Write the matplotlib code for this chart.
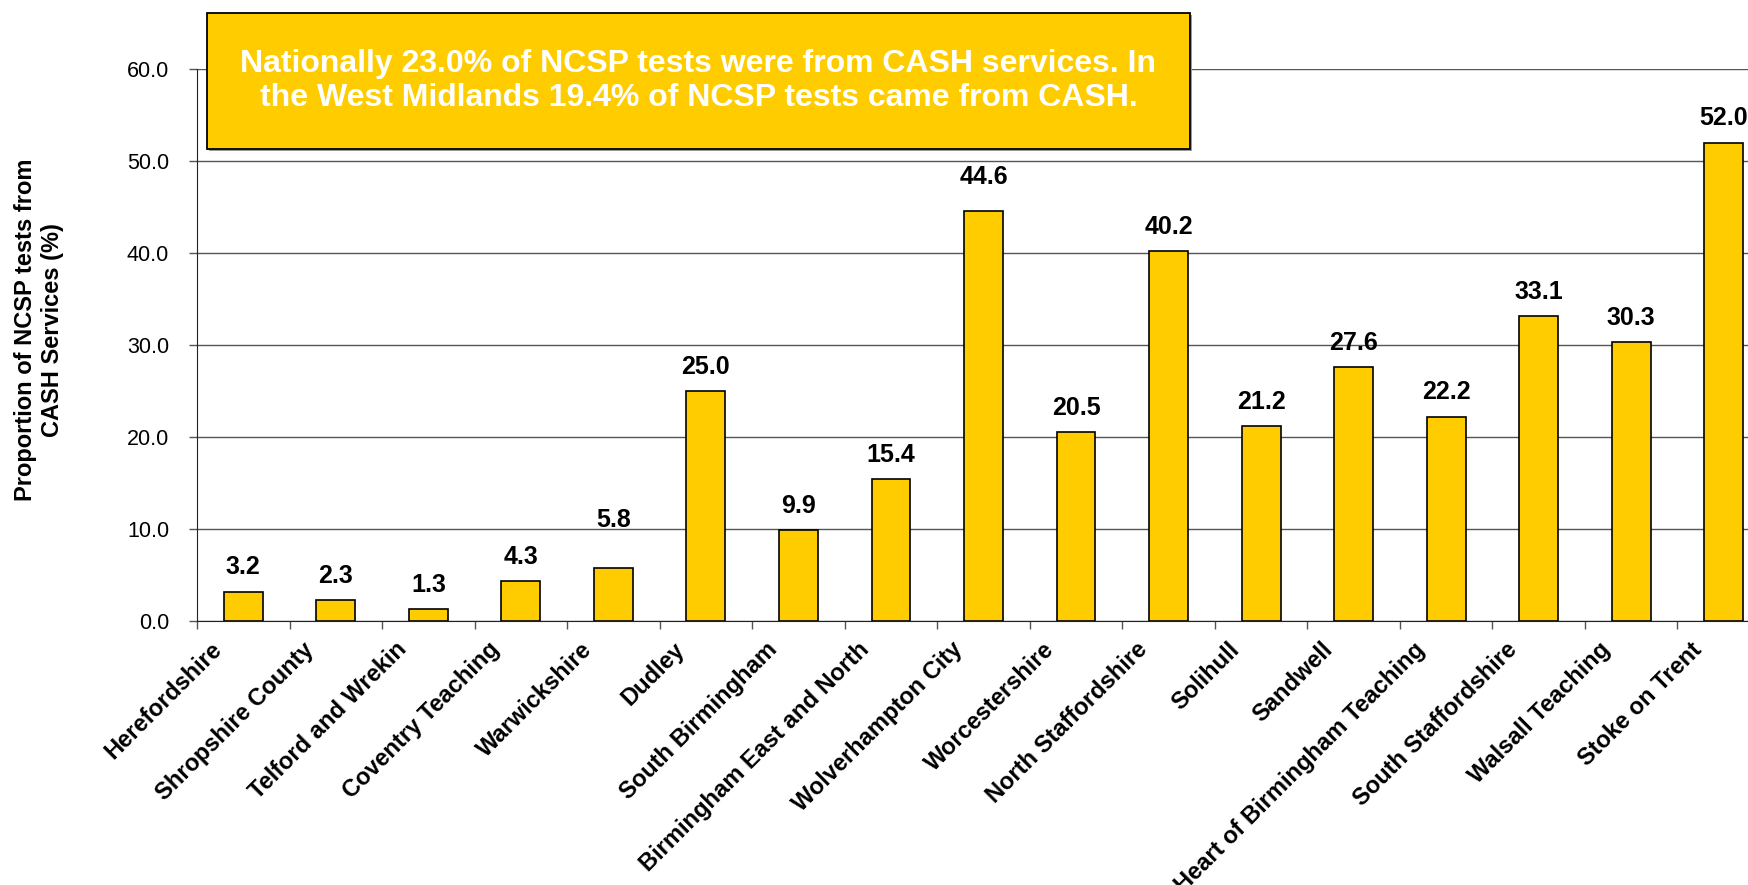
import numpy as np
import matplotlib.pyplot as plt
from matplotlib.patches import Rectangle
from matplotlib.transforms import ScaledTranslation

plt.rcParams['font.family'] = ['Liberation Sans', 'DejaVu Sans']

# PCT names and share of NCSP tests from CASH services (%)
pcts = ['Herefordshire', 'Shropshire County', 'Telford and Wrekin',
        'Coventry Teaching', 'Warwickshire', 'Dudley', 'South Birmingham',
        'Birmingham East and North', 'Wolverhampton City', 'Worcestershire',
        'North Staffordshire', 'Solihull', 'Sandwell',
        'Heart of Birmingham Teaching', 'South Staffordshire',
        'Walsall Teaching', 'Stoke on Trent']
cash_share = [3.2, 2.3, 1.3, 4.3, 5.8, 25.0, 9.9, 15.4, 44.6, 20.5,
              40.2, 21.2, 27.6, 22.2, 33.1, 30.3, 52.0]
y_ticks = [0, 10, 20, 30, 40, 50, 60]
note = ('Nationally 23.0% of NCSP tests were from CASH services. In\n'
        'the West Midlands 19.4% of NCSP tests came from CASH.')

# a couple of labels were lifted by hand in the original sheet
label_lift = {'Warwickshire': 17, 'Wolverhampton City': 7}

W, H = 1749, 885
fig = plt.figure(figsize=(W / 100, H / 100), dpi=100)
ax = fig.add_axes([197 / W, 1 - 621 / H, (1770 - 197) / W, (621 - 69) / H])

x = np.arange(len(pcts))
ax.bar(x, cash_share, width=0.42, color='#FFCC00', edgecolor='black',
       linewidth=1.2, zorder=3)

for i, (name, v) in enumerate(zip(pcts, cash_share)):
    ax.annotate('%.1f' % v, (i, v), xytext=(0, 17.5 + label_lift.get(name, 0)),
                textcoords='offset points', ha='center', va='center',
                fontsize=18, fontweight='bold', zorder=4)

ax.set_xlim(-0.5, len(pcts) - 0.5)
ax.set_ylim(0, 60)
ax.set_yticks(y_ticks)
ax.set_yticklabels(['%.1f' % t for t in y_ticks], fontsize=15.5)
ax.tick_params(axis='y', length=6, width=1, color='#555555', pad=14)
ax.yaxis.grid(True, color='#555555', linewidth=1.0, zorder=0)
ax.set_axisbelow(True)

ax.set_xticks(x)
ax.set_xticklabels(pcts, rotation=45, ha='right', va='center',
                   rotation_mode='anchor', fontsize=17, fontweight='bold')
ax.tick_params(axis='x', which='major', length=0, pad=18)
ax.set_xticks(np.arange(len(pcts) + 1) - 0.5, minor=True)
ax.tick_params(axis='x', which='minor', length=6, width=1, color='#555555')
shift = ScaledTranslation(-18 / 72, 0, fig.dpi_scale_trans)
for lab in ax.get_xticklabels():
    lab.set_transform(lab.get_transform() + shift)

for s in ['top', 'right']:
    ax.spines[s].set_visible(False)
ax.spines['left'].set_color('#222222')
ax.spines['bottom'].set_color('#222222')

fig.text(39 / W, 1 - 330 / H, 'Proportion of NCSP tests from\nCASH Services (%)',
         rotation=90, ha='center', va='center', multialignment='center',
         fontsize=17, fontweight='bold')

# callout box with a thin drop shadow
bx0, bx1, by0, by1 = 207, 1190, 13, 149
fig.patches.append(Rectangle(((bx0 + 2) / W, 1 - (by1 + 2) / H),
                             (bx1 - bx0) / W, (by1 - by0) / H,
                             transform=fig.transFigure, facecolor='#9a9a9a',
                             edgecolor='none', zorder=5))
fig.patches.append(Rectangle((bx0 / W, 1 - by1 / H), (bx1 - bx0) / W,
                             (by1 - by0) / H, transform=fig.transFigure,
                             facecolor='#FFCC00', edgecolor='black',
                             linewidth=1.3, zorder=6))
fig.text((bx0 + bx1) / 2 / W, 1 - 81 / H, note, ha='center', va='center',
         multialignment='center', color='white', fontsize=23,
         fontweight='bold', zorder=7)

fig.savefig('out.png', dpi=100)
